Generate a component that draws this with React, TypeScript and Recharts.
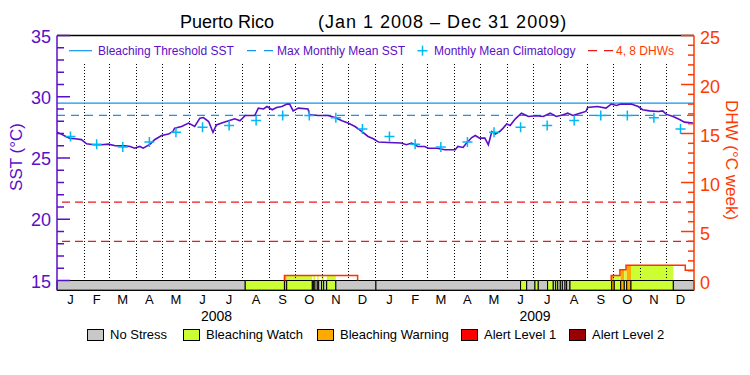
import React from "react";
import {
  ComposedChart,
  Line,
  Scatter,
  XAxis,
  YAxis,
  ReferenceLine,
  ReferenceArea,
} from "recharts";

// day 0 = Jan 1 2008, day 731 = end of Dec 31 2009
const monthLetters = ["J", "F", "M", "A", "M", "J", "J", "A", "S", "O", "N", "D"];
const monthLengths2008 = [31, 29, 31, 30, 31, 30, 31, 31, 30, 31, 30, 31];
const monthLengths2009 = [31, 28, 31, 30, 31, 30, 31, 31, 30, 31, 30, 31];
const yearLabels = ["2008", "2009"];

// daily SST (°C)
const sstDays = [
  0, 5, 10, 15, 21, 28, 34, 42, 51, 59, 67, 78, 84, 89, 95, 99, 107, 112, 120,
  128, 133, 135, 143, 151, 158, 164, 168, 174, 179, 183, 189, 197, 204, 210,
  216, 227, 231, 237, 241, 247, 252, 258, 264, 267, 271, 277, 288, 290, 300,
  311, 319, 327, 334, 342, 350, 357, 363, 369, 380, 395, 401, 407, 414, 422,
  426, 436, 445, 457, 460, 466, 470, 476, 480, 485, 491, 495, 499, 503, 508,
  512, 516, 520, 526, 533, 541, 549, 558, 566, 573, 581, 586, 592, 600, 607,
  609, 620, 630, 636, 642, 647, 659, 667, 672, 680, 690, 695, 699, 707, 715,
  720, 730,
];
const sstValues = [
  27.1, 26.95, 26.75, 26.6, 26.57, 26.5, 26.16, 26.08, 26.08, 26.13, 26.0,
  25.99, 25.94, 25.8, 25.94, 25.8, 26.13, 26.49, 26.84, 26.95, 27.16, 27.44,
  27.57, 27.85, 27.57, 28.25, 28.3, 27.98, 27.1, 27.7, 27.85, 28.04, 28.2,
  28.04, 28.47, 28.47, 29.07, 29.0, 29.2, 28.94, 29.12, 29.2, 29.4, 29.4,
  28.85, 29.07, 29.0, 28.53, 28.47, 28.47, 28.3, 28.04, 27.85, 27.57, 27.16,
  26.76, 26.57, 26.3, 26.27, 26.22, 26.08, 26.22, 25.94, 25.94, 25.8, 25.8,
  25.67, 25.67, 25.94, 25.86, 26.22, 26.67, 26.84, 26.62, 26.62, 26.08, 27.16,
  26.95, 27.16, 27.44, 27.77, 27.65, 28.2, 28.66, 28.39, 28.45, 28.39, 28.66,
  28.39, 28.53, 28.66, 28.47, 28.66, 28.8, 29.12, 29.2, 29.07, 29.4, 29.29,
  29.4, 29.4, 29.2, 28.94, 28.85, 28.8, 28.85, 28.58, 28.39, 28.12, 27.93,
  27.85,
];

// monthly mean climatology, Jan..Dec
const climatology = [26.76, 26.13, 25.9, 26.3, 27.1, 27.52, 27.65, 28.06, 28.47, 28.47, 28.28, 27.36];
const maxMonthlyMean = 28.48;
const bleachingThreshold = 29.48;
const dhwLines = [4, 8];

// degree heating weeks, step starts
const dhwDays = [0, 261, 345, 636, 646, 653, 721, 731];
const dhwValues = [0, 0.5, 0, 0.5, 1.1, 1.55, 1.05, 1.05];

// stress level periods: [start day, end day, level]
const stressPeriods: [number, number, number][] = [
  [0, 216, 0], [216, 261, 1], [261, 263.6, 2], [263.6, 293, 1],
  [293, 294.2, 0], [294.2, 296, 1], [296, 298.7, 0], [298.7, 300.3, 1],
  [300.3, 303.7, 0], [303.7, 306, 1], [306, 309.5, 0], [309.5, 320, 1],
  [320, 366, 0],
  [366, 532, 0], [532, 539, 1], [539, 548.5, 0], [548.5, 552.3, 1],
  [552.3, 563, 0], [563, 569.5, 1], [569.5, 572.3, 0], [572.3, 574.6, 1],
  [574.6, 577.6, 0], [577.6, 579.9, 1], [579.9, 583, 0], [583, 584.9, 1],
  [584.9, 588.7, 0], [588.7, 636.6, 1], [636.6, 639.5, 2], [639.5, 646.9, 1],
  [646.9, 651, 2], [651, 653.8, 1], [653.8, 658.7, 2], [658.7, 707.3, 1],
  [707.3, 731, 0],
];
const stressNames = ["No Stress", "Bleaching Watch", "Bleaching Warning", "Alert Level 1", "Alert Level 2"];
const stressColors = ["#c8c8c8", "#ccff33", "#ffaa00", "#ff0000", "#990000"];

const PURPLE = "#5a0fc8";
const BLUE = "#1296f0";
const CYAN = "#00b8f5";
const ORANGE_RED = "#ff3a00";
const RED = "#f01818";
const FONT = "'Liberation Sans', Arial, sans-serif";

const monthLengths = [...monthLengths2008, ...monthLengths2009];
const monthStarts: number[] = [];
monthLengths.reduce((acc, len) => {
  monthStarts.push(acc);
  return acc + len;
}, 0);
const monthCenters = monthStarts.map((s, i) => s + monthLengths[i] / 2);
const totalDays = monthLengths.reduce((a, b) => a + b, 0);
const yearCenters = [183, 366 + 365 / 2];

const sstData = sstDays.map((day, i) => ({ day, sst: sstValues[i] }));
const climData = monthCenters.map((day, i) => ({ day, sst: climatology[i % 12] }));

// dhw outline as step points, broken where it returns to zero
const dhwData: { day: number; dhw: number | null }[] = [];
for (let i = 1; i < dhwDays.length; i++) {
  const d = dhwDays[i];
  const prev = dhwValues[i - 1];
  const v = dhwValues[i];
  if (prev === 0 && v > 0) {
    dhwData.push({ day: d, dhw: 0 }, { day: d, dhw: v });
  } else if (prev > 0 && v === 0) {
    dhwData.push({ day: d, dhw: prev }, { day: d, dhw: 0 }, { day: d, dhw: null });
  } else if (prev > 0) {
    dhwData.push({ day: d, dhw: prev });
    if (i < dhwDays.length - 1) dhwData.push({ day: d, dhw: v });
  }
}

// dhw fill coloured by stress level
const dhwFills: { x1: number; x2: number; y2: number; color: string }[] = [];
stressPeriods.forEach(([s, e, lvl]) => {
  if (lvl === 0) return;
  for (let i = 0; i < dhwDays.length - 1; i++) {
    const v = dhwValues[i];
    if (v <= 0) continue;
    const a = Math.max(s, dhwDays[i]);
    const b = Math.min(e, dhwDays[i + 1]);
    if (b > a) dhwFills.push({ x1: a, x2: b, y2: v, color: stressColors[lvl] });
  }
});

const sstTicks = Array.from({ length: 21 }, (_, i) => 15 + i);
const dhwTicks = Array.from({ length: 26 }, (_, i) => i);

const LeftTick = (props: any) => {
  const { x, y, payload } = props;
  const major = payload.value % 5 === 0;
  return (
    <g>
      <line x1={x} x2={x + (major ? 13 : 7)} y1={y} y2={y} stroke={PURPLE} strokeWidth={1.5} />
      {major && (
        <text x={x - 6} y={y + 1} textAnchor="end" dominantBaseline="central" fill={PURPLE} fontSize={18} fontFamily={FONT}>
          {payload.value}
        </text>
      )}
    </g>
  );
};

const RightTick = (props: any) => {
  const { x, y, payload } = props;
  const major = payload.value % 5 === 0;
  return (
    <g>
      {payload.value > 0 && (
        <line x1={x} x2={x - (major ? 13 : 6)} y1={y} y2={y} stroke={ORANGE_RED} strokeWidth={1.5} />
      )}
      {major && (
        <text x={x + 6} y={y + 2} textAnchor="start" dominantBaseline="central" fill={ORANGE_RED} fontSize={18} fontFamily={FONT}>
          {payload.value}
        </text>
      )}
    </g>
  );
};

const Cross = (props: any) => {
  const { cx, cy } = props;
  return (
    <g>
      <line x1={cx - 5} x2={cx + 5} y1={cy} y2={cy} stroke={CYAN} strokeWidth={1.5} />
      <line x1={cx} x2={cx} y1={cy - 5} y2={cy + 5} stroke={CYAN} strokeWidth={1.5} />
    </g>
  );
};

const legendText: React.CSSProperties = {
  position: "absolute",
  fontSize: 12,
  color: PURPLE,
  lineHeight: "14px",
  whiteSpace: "nowrap",
};

export default function App() {
  return (
    <div style={{ position: "absolute", left: 0, top: 0, width: 750, height: 375, background: "#fff", fontFamily: FONT }}>
      <ComposedChart width={750} height={375} margin={{ top: 35.5, right: 0, bottom: 0, left: 0 }}>
        <XAxis
          dataKey="day"
          type="number"
          domain={[0, totalDays]}
          allowDataOverflow
          ticks={monthCenters}
          interval={0}
          tickFormatter={(v: number) => monthLetters[monthCenters.indexOf(v) % 12]}
          tickLine={false}
          tickSize={0}
          tickMargin={4}
          axisLine={{ stroke: "#000" }}
          tick={{ fontSize: 13, fill: "#000", fontFamily: FONT }}
          height={18}
        />
        <XAxis
          xAxisId="year"
          dataKey="day"
          type="number"
          domain={[0, totalDays]}
          allowDataOverflow
          ticks={yearCenters}
          interval={0}
          tickFormatter={(v: number) => yearLabels[yearCenters.indexOf(v)]}
          tickLine={false}
          tickSize={0}
          tickMargin={3}
          axisLine={false}
          tick={{ fontSize: 14, fill: "#000", fontFamily: FONT }}
          height={66.7}
        />
        <YAxis
          yAxisId="sst"
          type="number"
          domain={[14.2, 35]}
          allowDataOverflow
          ticks={sstTicks}
          interval={0}
          tickLine={false}
          tickSize={0}
          tickMargin={0}
          axisLine={{ stroke: PURPLE, strokeWidth: 1.5 }}
          tick={<LeftTick />}
          width={57}
        />
        <YAxis
          yAxisId="dhw"
          orientation="right"
          type="number"
          domain={[-1, 25]}
          allowDataOverflow
          ticks={dhwTicks}
          interval={0}
          tickLine={false}
          tickSize={0}
          tickMargin={0}
          axisLine={{ stroke: ORANGE_RED, strokeWidth: 1.5 }}
          tick={<RightTick />}
          width={56}
        />

        {monthStarts.slice(1).map((d) => (
          <ReferenceLine
            key={`m${d}`}
            yAxisId="sst"
            segment={[{ x: d, y: 15 }, { x: d, y: 32.8 }]}
            stroke="#000"
            strokeDasharray="1 2"
            shapeRendering="crispEdges"
          />
        ))}
        <ReferenceLine yAxisId="sst" y={35} stroke="#000" strokeWidth={1.5} />
        <ReferenceLine yAxisId="sst" y={bleachingThreshold} stroke={BLUE} strokeWidth={1.2} />
        <ReferenceLine yAxisId="sst" y={maxMonthlyMean} stroke={BLUE} strokeWidth={1.2} strokeDasharray="8 6" />
        {dhwLines.map((v) => (
          <ReferenceLine key={`d${v}`} yAxisId="dhw" y={v} stroke={RED} strokeWidth={1.2} strokeDasharray="8 5" />
        ))}

        {dhwFills.map((f, i) => (
          <ReferenceArea
            key={`f${i}`}
            yAxisId="dhw"
            x1={f.x1}
            x2={f.x2}
            y1={0}
            y2={f.y2}
            fill={f.color}
            fillOpacity={1}
            stroke="none"
          />
        ))}
        {stressPeriods.map(([s, e, lvl], i) => (
          <ReferenceArea
            key={`s${i}`}
            yAxisId="sst"
            x1={s}
            x2={e}
            y1={14.2}
            y2={15}
            fill={stressColors[lvl]}
            fillOpacity={1}
            stroke="#000"
            strokeWidth={1}
          />
        ))}

        <Line
          yAxisId="dhw"
          data={dhwData}
          dataKey="dhw"
          type="linear"
          stroke="#ff3300"
          strokeWidth={1.5}
          dot={false}
          connectNulls={false}
          isAnimationActive={false}
        />
        <Line
          yAxisId="sst"
          data={sstData}
          dataKey="sst"
          type="linear"
          stroke={PURPLE}
          strokeWidth={1.6}
          dot={false}
          isAnimationActive={false}
        />
        <Scatter yAxisId="sst" data={climData} dataKey="sst" shape={<Cross />} isAnimationActive={false} />
      </ComposedChart>

      {/* title */}
      <div style={{ position: "absolute", left: 180, top: 12, fontSize: 18, whiteSpace: "nowrap" }}>Puerto Rico</div>
      <div style={{ position: "absolute", left: 318, top: 12, fontSize: 18, whiteSpace: "nowrap", letterSpacing: 1 }}>
        (Jan 1 2008 – Dec 31 2009)
      </div>

      {/* top legend */}
      <svg width={750} height={60} style={{ position: "absolute", left: 0, top: 20, pointerEvents: "none" }}>
        <line x1={69} x2={92} y1={30.7} y2={30.7} stroke={BLUE} strokeWidth={1.2} />
        <line x1={247} x2={275} y1={30.7} y2={30.7} stroke={BLUE} strokeWidth={1.2} strokeDasharray="9 8" />
        <line x1={417.5} x2={427.5} y1={30.7} y2={30.7} stroke={CYAN} strokeWidth={1.5} />
        <line x1={422.5} x2={422.5} y1={25.7} y2={35.7} stroke={CYAN} strokeWidth={1.5} />
        <line x1={588} x2={613} y1={30.7} y2={30.7} stroke={RED} strokeWidth={1.2} strokeDasharray="9 7" />
      </svg>
      <div style={{ ...legendText, left: 98, top: 44 }}>Bleaching Threshold SST</div>
      <div style={{ ...legendText, left: 277, top: 44 }}>Max Monthly Mean SST</div>
      <div style={{ ...legendText, left: 434, top: 44 }}>Monthly Mean Climatology</div>
      <div style={{ ...legendText, left: 616, top: 44, color: ORANGE_RED }}>4, 8 DHWs</div>

      {/* axis titles */}
      <div
        style={{
          position: "absolute",
          left: 17,
          top: 157,
          transform: "translate(-50%, -50%) rotate(-90deg)",
          fontSize: 17,
          color: PURPLE,
          whiteSpace: "nowrap",
        }}
      >
        SST (°C)
      </div>
      <div
        style={{
          position: "absolute",
          left: 731,
          top: 160,
          transform: "translate(-50%, -50%) rotate(90deg)",
          fontSize: 17,
          color: ORANGE_RED,
          whiteSpace: "nowrap",
        }}
      >
        DHW (°C week)
      </div>

      {/* stress legend */}
      {stressNames.map((name, i) => {
        const lefts = [87, 183, 317, 461, 569];
        return (
          <div key={name} style={{ position: "absolute", left: lefts[i], top: 329, display: "flex", alignItems: "center", whiteSpace: "nowrap" }}>
            <div style={{ width: 15, height: 10, background: stressColors[i], border: "1px solid #000" }} />
            <span style={{ marginLeft: 6, fontSize: 13, lineHeight: "12px" }}>{name}</span>
          </div>
        );
      })}
    </div>
  );
}
